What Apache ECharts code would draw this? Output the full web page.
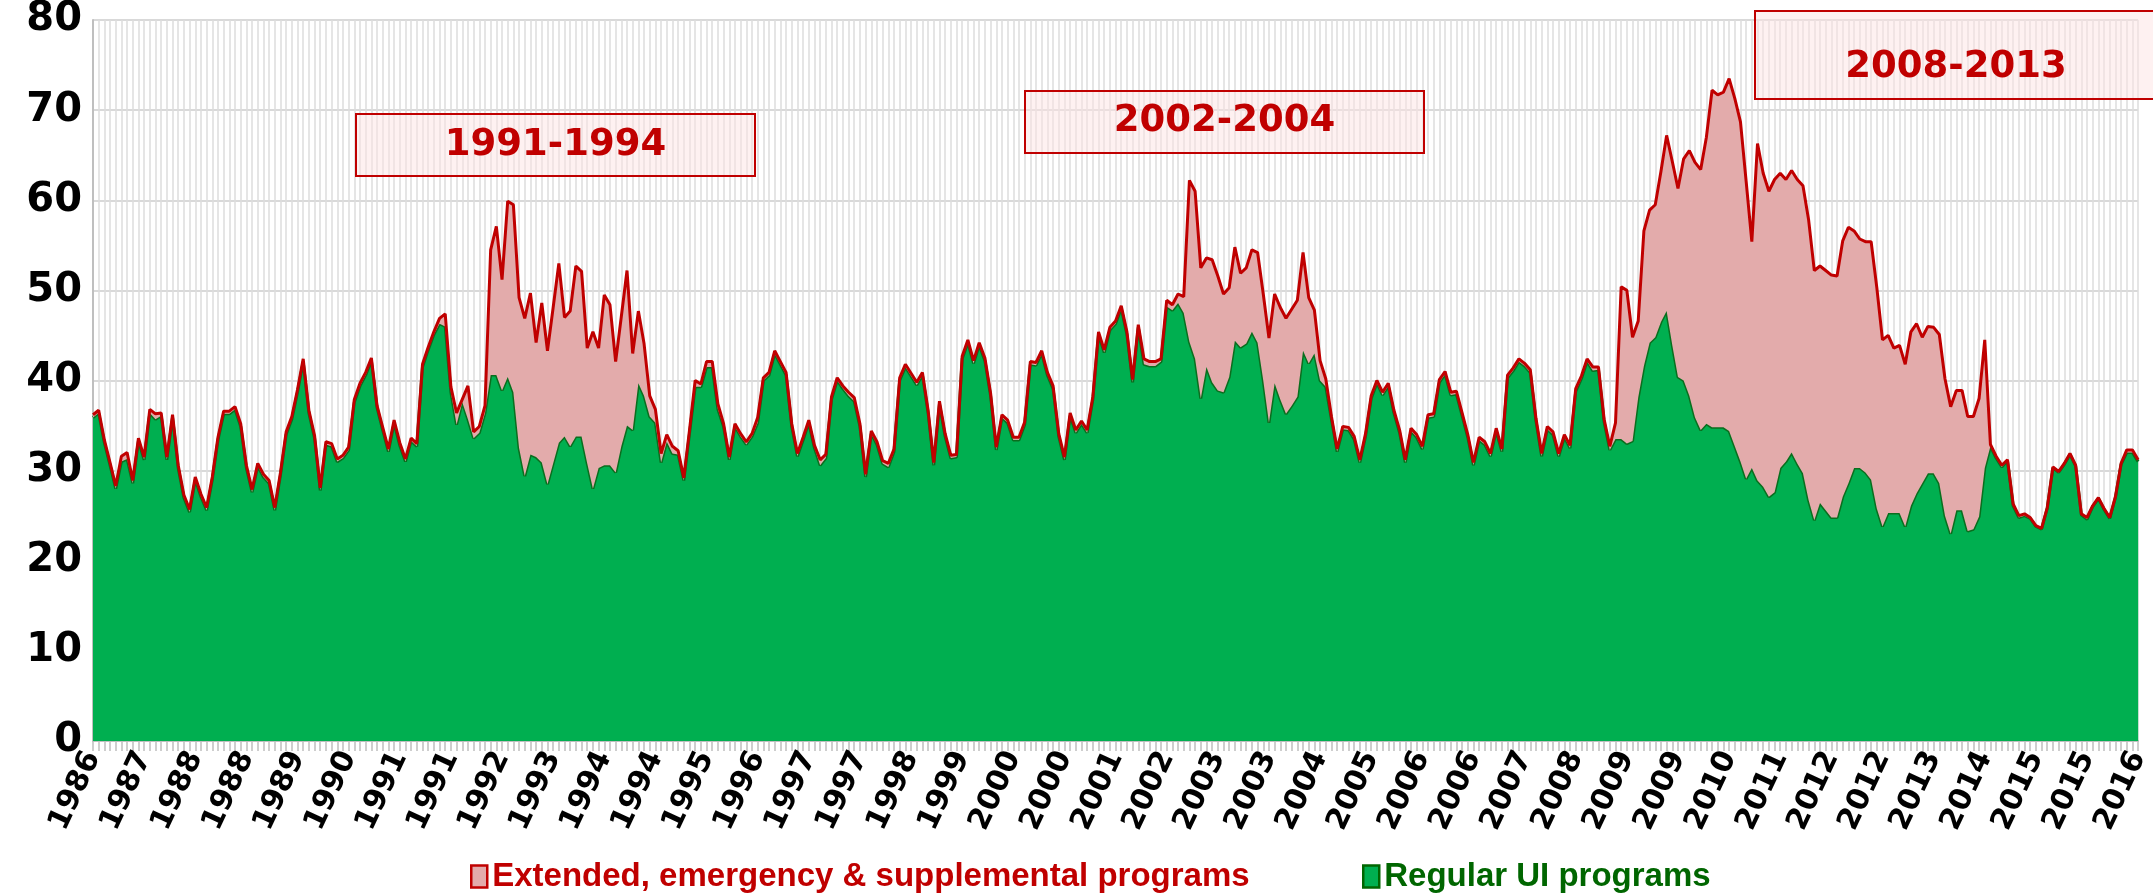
<!DOCTYPE html>
<html>
<head>
<meta charset="utf-8">
<script src="https://cdn.jsdelivr.net/npm/echarts@6/dist/echarts.min.js"></script>
<style>
html,body{margin:0;padding:0;background:#fff;}
#chart{width:2153px;height:894px;}
</style>
</head>
<body>
<div id="chart"></div>
<script>
// Monthly observations, Jul 1986 .. Jul 2016 (361 months)
const startYear = 1986, startMonth = 7, monthCount = 361;

const regular = [
35.9,36.4,33.1,30.6,28.0,31.0,31.3,28.6,33.3,31.2,
36.4,35.7,36.1,31.2,35.9,30.3,27.0,25.4,29.0,27.1,
25.6,29.0,33.4,36.3,36.3,36.8,34.9,30.3,27.6,30.5,
29.3,28.6,25.6,29.5,34.0,35.7,38.7,42.1,36.4,33.6,
27.8,32.9,32.7,31.0,31.4,32.3,37.6,39.4,40.6,42.2,
37.0,34.5,32.1,35.3,32.8,31.0,33.3,32.7,41.5,43.4,
45.1,46.3,46.0,38.7,35.1,37.6,35.7,33.6,34.2,36.4,
40.6,40.6,38.9,40.4,38.7,32.5,29.4,31.8,31.5,30.9,
28.5,30.8,33.1,33.8,32.7,33.8,33.8,30.8,28.0,30.3,
30.6,30.6,29.8,32.7,35.0,34.5,39.7,38.3,36.0,35.3,
30.9,33.2,31.9,31.8,28.9,34.1,39.3,39.3,41.5,41.5,
36.8,34.9,31.2,34.9,33.8,32.9,33.8,35.3,40.0,40.6,
43.0,41.8,40.6,34.9,31.6,33.4,35.3,32.5,30.6,31.4,
37.9,40.0,39.1,38.3,37.7,34.9,29.3,34.1,32.9,30.8,
30.4,32.1,40.0,41.5,40.5,39.5,40.6,36.4,30.6,37.4,
33.8,31.4,31.5,42.4,44.2,41.9,43.9,42.2,38.3,32.3,
35.9,35.3,33.4,33.4,35.1,41.8,41.7,43.0,40.6,39.1,
33.8,31.2,36.1,34.2,35.2,34.2,37.9,45.1,43.1,45.6,
46.3,48.0,45.1,39.8,45.9,41.8,41.6,41.6,42.1,48.2,
47.8,48.6,47.5,44.3,42.4,38.0,41.5,39.8,38.9,38.7,
40.4,44.4,43.7,44.1,45.4,44.2,40.0,35.3,39.7,37.9,
36.3,37.2,38.2,43.3,41.9,43.0,40.0,39.3,35.7,32.1,
34.6,34.5,33.5,30.9,33.8,38.0,39.7,38.4,39.4,36.4,
34.2,30.9,34.4,33.7,32.4,35.9,36.0,39.8,40.7,38.4,
38.5,36.1,33.7,30.6,33.4,32.9,31.6,34.4,32.1,40.3,
41.1,42.1,41.6,40.9,35.5,31.6,34.6,34.0,31.6,33.7,
32.5,38.8,40.2,42.1,41.1,41.2,35.4,32.3,33.5,33.5,
33.0,33.3,38.1,41.6,44.2,44.8,46.5,47.7,43.9,40.4,
40.0,38.3,35.9,34.5,35.2,34.8,34.8,34.8,34.4,32.7,
31.0,29.1,30.3,28.9,28.2,27.1,27.6,30.3,31.0,32.0,
30.8,29.7,26.7,24.5,26.4,25.6,24.8,24.8,27.1,28.6,
30.3,30.3,29.8,29.0,25.8,23.8,25.3,25.3,25.3,23.8,
26.1,27.5,28.6,29.7,29.7,28.6,25.0,23.0,25.6,25.6,
23.3,23.5,24.9,30.3,32.7,31.4,30.4,31.1,26.1,24.8,
25.0,24.7,23.8,23.5,25.8,30.3,29.8,30.7,31.8,30.5,
25.1,24.6,26.0,26.9,25.7,24.7,27.0,30.7,32.0,32.0,
31.0
];

const extended = [
0.3,0.3,0.3,0.3,0.3,0.6,0.7,0.3,0.3,0.3,
0.4,0.6,0.3,0.3,0.3,0.3,0.3,0.3,0.3,0.3,
0.3,0.3,0.3,0.3,0.3,0.3,0.3,0.3,0.3,0.3,
0.3,0.3,0.3,0.3,0.3,0.3,0.3,0.3,0.3,0.3,
0.3,0.3,0.3,0.3,0.3,0.3,0.3,0.3,0.3,0.3,
0.2,0.3,0.3,0.3,0.3,0.3,0.3,0.3,0.3,0.3,
0.3,0.6,1.4,0.6,1.3,0.3,3.7,0.7,0.7,0.8,
13.9,16.5,12.3,19.5,20.8,16.7,17.5,17.9,12.7,17.7,
14.8,17.3,19.9,13.2,15.0,18.9,18.3,12.8,17.4,13.3,
18.9,17.8,12.3,14.4,17.2,8.5,8.0,5.8,2.3,1.5,
1.0,0.8,0.8,0.4,0.3,0.4,0.7,0.3,0.6,0.6,
0.6,0.3,0.3,0.3,0.3,0.3,0.3,0.6,0.3,0.3,
0.3,0.3,0.3,0.3,0.3,0.3,0.3,0.3,0.6,0.4,
0.3,0.3,0.3,0.4,0.4,0.3,0.3,0.3,0.3,0.3,
0.4,0.3,0.3,0.3,0.3,0.3,0.3,0.3,0.3,0.3,
0.3,0.3,0.3,0.3,0.3,0.3,0.3,0.3,0.3,0.3,
0.3,0.3,0.3,0.3,0.3,0.3,0.3,0.3,0.3,0.3,
0.3,0.3,0.3,0.3,0.3,0.3,0.3,0.3,0.3,0.3,
0.3,0.3,0.3,0.3,0.3,0.6,0.5,0.5,0.3,0.7,
0.6,1.0,1.8,17.9,18.6,14.5,12.1,13.6,12.7,10.9,
9.9,10.4,8.2,8.4,9.1,10.0,9.6,9.4,9.9,10.2,
10.6,10.7,10.7,10.9,7.3,4.8,2.2,0.9,0.3,0.3,
0.3,0.3,0.3,0.3,0.3,0.3,0.3,0.3,0.3,0.3,
0.3,0.3,0.3,0.3,0.3,0.3,0.3,0.3,0.3,0.3,
0.3,0.3,0.3,0.3,0.3,0.3,0.3,0.3,0.3,0.3,
0.3,0.3,0.3,0.3,0.3,0.3,0.3,0.3,0.3,0.3,
0.3,0.3,0.3,0.3,0.4,0.3,0.3,0.4,1.8,16.9,
17.0,11.5,8.5,15.0,14.7,14.7,16.7,19.5,20.4,20.9,
24.6,27.2,28.3,28.9,31.8,37.4,36.9,37.2,39.1,38.6,
37.7,33.0,25.1,37.4,34.8,33.9,34.7,32.7,31.3,31.3,
31.5,31.9,31.1,27.7,26.3,26.6,26.9,26.8,28.4,28.4,
26.3,25.4,25.6,26.4,24.5,20.7,19.7,18.3,18.6,18.0,
19.3,18.8,16.2,16.3,16.2,16.5,15.2,14.1,13.3,13.3,
12.7,12.5,13.1,14.2,0.2,0.2,0.2,0.1,0.2,0.2,
0.2,0.1,0.1,0.1,0.1,0.1,0.1,0.1,0.1,0.1,
0.1,0.2,0.1,0.1,0.1,0.1,0.1,0.1,0.3,0.3,
0.2
];

const seriesNames = ['Extended, emergency & supplemental programs', 'Regular UI programs'];
const yTicks = { min: 0, max: 80, interval: 10 };
const labelEvery = 9; // one axis label every 9 months
const periods = [
  { label: '1991-1994', x: 356, y: 114, w: 399, h: 62, ty: 145 },
  { label: '2002-2004', x: 1025, y: 91, w: 399, h: 62, ty: 121 },
  { label: '2008-2013', x: 1755, y: 11, w: 402, h: 88, ty: 67 }
];

// month categories "YYYY-MM"
const months = [];
for (let k = 0; k < monthCount; k++) {
  const m = startMonth - 1 + k;
  const yy = startYear + Math.floor(m / 12);
  const mm = (m % 12) + 1;
  months.push(yy + '-' + (mm < 10 ? '0' : '') + mm);
}

const RED = '#C00000', PINK = '#E3ABAB', GREEN = '#00AF50', DKGREEN = '#0A6E1E', LEGGREEN = '#006600';
const axisFont = 'DejaVu Sans';

const chart = echarts.init(document.getElementById('chart'), null, { renderer: 'canvas' });

const graphics = [];
periods.forEach(p => {
  graphics.push({
    type: 'rect', z: 50,
    shape: { x: p.x, y: p.y, width: p.w, height: p.h },
    style: { fill: 'rgba(253,228,228,0.5)', stroke: RED, lineWidth: 2 }
  });
  graphics.push({
    type: 'text', z: 51,
    x: p.x + p.w / 2, y: p.ty,
    style: {
      text: p.label, fill: RED, align: 'center', verticalAlign: 'middle',
      font: 'bold 37px "DejaVu Sans"'
    }
  });
});

const legendText = { fontFamily: 'Liberation Sans', fontWeight: 'bold', fontSize: 33 };

chart.setOption({
  animation: false,
  backgroundColor: '#ffffff',
  grid: { left: 93, right: 9, top: 20, bottom: 153, containLabel: false },
  legend: [
    {
      left: 470, top: 860, padding: 0, itemWidth: 16, itemHeight: 22, itemGap: 10,
      icon: 'rect', selectedMode: false,
      textStyle: legendText,
      data: [{ name: seriesNames[0], itemStyle: { color: PINK, borderColor: RED, borderWidth: 2.5 }, textStyle: { color: RED } }]
    },
    {
      left: 1362, top: 860, padding: 0, itemWidth: 16, itemHeight: 22, itemGap: 10,
      icon: 'rect', selectedMode: false,
      textStyle: legendText,
      data: [{ name: seriesNames[1], itemStyle: { color: GREEN, borderColor: LEGGREEN, borderWidth: 2.5 }, textStyle: { color: LEGGREEN } }]
    }
  ],
  xAxis: {
    type: 'category',
    data: months,
    boundaryGap: false,
    axisLine: { show: true, lineStyle: { color: '#BFBFBF', width: 2 } },
    axisTick: { show: true, interval: 0, length: 10, lineStyle: { color: '#BFBFBF', width: 1.5 } },
    splitLine: { show: true, interval: 0, lineStyle: { color: '#DCDCDC', width: 1.5 } },
    axisLabel: {
      interval: labelEvery - 1,
      rotate: 65,
      margin: 12,
      fontFamily: axisFont, fontWeight: 'bold', fontSize: 30, color: '#000',
      formatter: v => v.slice(0, 4)
    }
  },
  yAxis: {
    type: 'value',
    min: yTicks.min, max: yTicks.max, interval: yTicks.interval,
    axisLine: { show: true, lineStyle: { color: '#BFBFBF', width: 2 } },
    axisTick: { show: false },
    splitLine: { show: true, lineStyle: { color: '#D9D9D9', width: 2 } },
    axisLabel: { margin: 11, fontFamily: axisFont, fontWeight: 'bold', fontSize: 40, color: '#000' }
  },
  series: [
    {
      name: seriesNames[1], type: 'line', stack: 'total', data: regular,
      symbol: 'none', smooth: false,
      lineStyle: { color: DKGREEN, width: 3 },
      itemStyle: { color: GREEN },
      areaStyle: { color: GREEN, opacity: 1 },
      z: 2
    },
    {
      name: seriesNames[0], type: 'line', stack: 'total', data: extended,
      symbol: 'none', smooth: false,
      lineStyle: { color: RED, width: 3 },
      itemStyle: { color: PINK },
      areaStyle: { color: PINK, opacity: 1 },
      z: 3
    }
  ],
  graphic: graphics
});
</script>
</body>
</html>
